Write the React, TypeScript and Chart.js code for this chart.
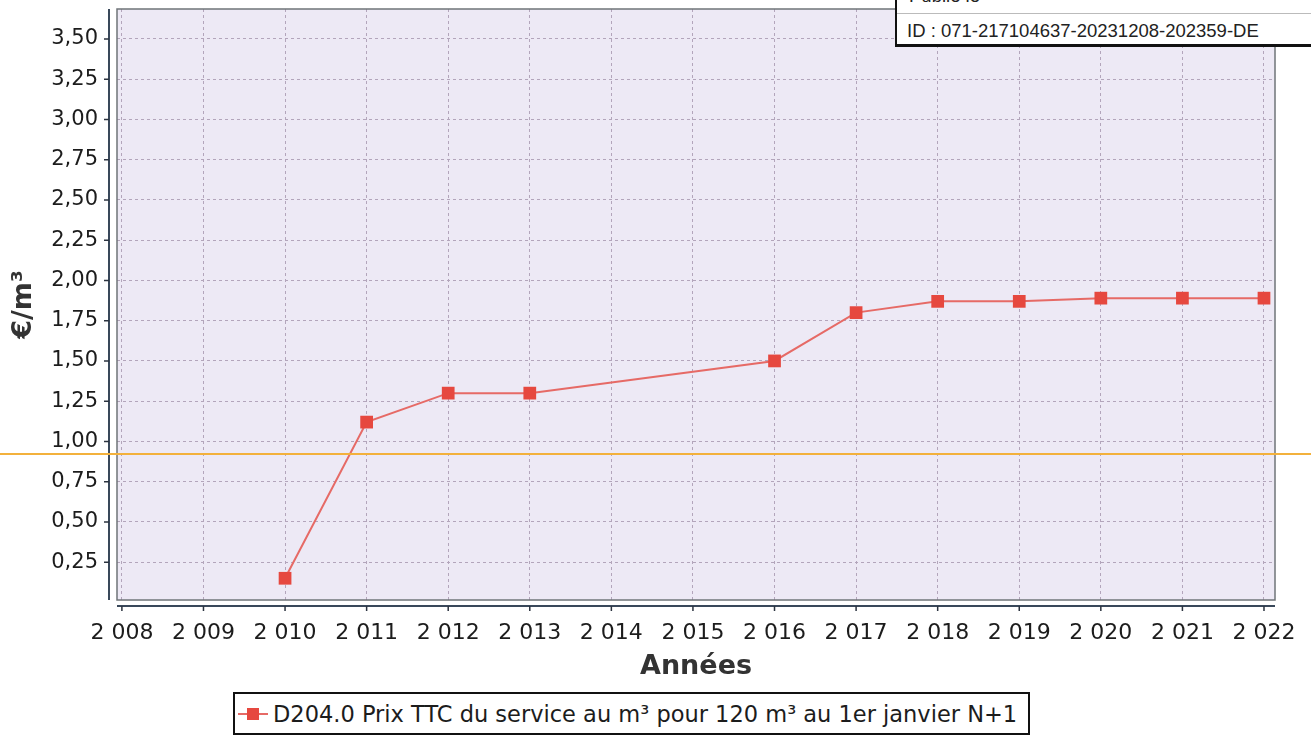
import React, { useEffect, useRef } from "react";
import { Chart, registerables } from "chart.js";

Chart.register(...registerables);

// ---- data ----
const years: number[] = [2010, 2011, 2012, 2013, 2016, 2017, 2018, 2019, 2020, 2021, 2022];
const prices: number[] = [0.15, 1.12, 1.30, 1.30, 1.50, 1.80, 1.87, 1.87, 1.89, 1.89, 1.89];
const xTickYears: number[] = [2008, 2009, 2010, 2011, 2012, 2013, 2014, 2015, 2016, 2017, 2018, 2019, 2020, 2021, 2022];
const yTickValues: number[] = [0.25, 0.5, 0.75, 1.0, 1.25, 1.5, 1.75, 2.0, 2.25, 2.5, 2.75, 3.0, 3.25, 3.5];
const seriesLabel = "D204.0 Prix TTC du service au m³ pour 120 m³ au 1er janvier N+1";
const xTitle = "Années";
const yTitle = "€/m³";
const stampTop = "Publié le";
const stampId = "ID : 071-217104637-20231208-202359-DE";
const scanArtifactValue = 0.93;

const FONT = "'DejaVu Sans', Verdana, sans-serif";
const PLOT_BG = "#ede9f5";
const GRID = "#b3a5bb";
const POINT_RED = "#e6483f";
const LINE_RED = "#e66a66";

const fmtFr = (v: number) => v.toFixed(2).replace(".", ",");
const fmtYear = (v: number) => {
  const s = String(Math.round(v));
  return s.slice(0, 1) + " " + s.slice(1);
};

const decorPlugin = {
  id: "decor",
  beforeDraw(chart: any) {
    const { ctx, chartArea: a } = chart;
    ctx.save();
    ctx.fillStyle = PLOT_BG;
    ctx.fillRect(a.left, a.top, a.right - a.left, a.bottom - a.top);
    ctx.restore();
  },
  afterDatasetsDraw(chart: any) {
    const { ctx, chartArea: a, scales } = chart;
    ctx.save();
    // plot border
    ctx.strokeStyle = "#6f7478";
    ctx.lineWidth = 1.5;
    ctx.strokeRect(a.left, a.top, a.right - a.left, a.bottom - a.top);
    // offset axis lines
    ctx.strokeStyle = "#39485a";
    ctx.lineWidth = 2;
    const axX = a.left - 8;
    const axY = a.bottom + 6;
    ctx.beginPath();
    ctx.moveTo(axX, a.top);
    ctx.lineTo(axX, a.bottom);
    ctx.moveTo(a.left, axY);
    ctx.lineTo(a.right, axY);
    ctx.stroke();
    // tick marks
    ctx.lineWidth = 1.5;
    ctx.strokeStyle = "#2c3440";
    ctx.beginPath();
    for (const v of yTickValues) {
      const py = scales.y.getPixelForValue(v);
      ctx.moveTo(axX - 5, py);
      ctx.lineTo(axX, py);
    }
    for (const v of xTickYears) {
      const px = scales.x.getPixelForValue(v);
      ctx.moveTo(px, axY);
      ctx.lineTo(px, axY + 5);
    }
    ctx.stroke();
    ctx.restore();
  },
  afterDraw(chart: any) {
    const { ctx, scales, width } = chart;
    const py = Math.round(scales.y.getPixelForValue(scanArtifactValue));
    ctx.save();
    ctx.setLineDash([]);
    ctx.fillStyle = "#f3b13c";
    ctx.fillRect(0, py, width, 2);
    ctx.restore();
  },
};

export default function App() {
  const ref = useRef<HTMLCanvasElement | null>(null);

  useEffect(() => {
    if (!ref.current) return;
    const chart = new Chart(ref.current, {
      type: "line",
      data: {
        datasets: [
          {
            label: seriesLabel,
            data: years.map((y, i) => ({ x: y, y: prices[i] })),
            borderColor: LINE_RED,
            borderWidth: 2,
            backgroundColor: POINT_RED,
            pointBackgroundColor: POINT_RED,
            pointBorderColor: POINT_RED,
            pointBorderWidth: 0,
            pointStyle: "rect",
            pointRadius: 9,
            tension: 0,
            fill: false,
          },
        ],
      },
      options: {
        animation: false,
        responsive: false,
        devicePixelRatio: 1,
        layout: { padding: { top: 7, right: 36, left: 0, bottom: 0 } },
        plugins: {
          legend: { display: false },
          tooltip: { enabled: false },
        },
        scales: {
          x: {
            type: "linear",
            min: 2007.94,
            max: 2022.135,
            afterBuildTicks: (s: any) => {
              s.ticks = xTickYears.map((v) => ({ value: v }));
            },
            afterFit: (s: any) => {
              s.height = 138;
              s.paddingLeft = 0;
              s.paddingRight = 0;
            },
            border: { display: false, dash: [3, 3] },
            grid: {
              drawTicks: false,
              color: GRID,
              lineWidth: 1,
            },
            ticks: {
              padding: 20,
              autoSkip: false,
              maxRotation: 0,
              color: "#1c1c1c",
              font: { family: FONT, size: 22 },
              callback: (v: any) => fmtYear(Number(v)),
            },
            title: {
              display: true,
              text: xTitle,
              color: "#333333",
              font: { family: FONT, size: 27, weight: "bold" },
              padding: { top: 0, bottom: 55 },
            },
          },
          y: {
            type: "linear",
            min: 0.015,
            max: 3.686,
            afterBuildTicks: (s: any) => {
              s.ticks = yTickValues.map((v) => ({ value: v }));
            },
            afterFit: (s: any) => {
              s.width = 117;
              s.paddingTop = 0;
              s.paddingBottom = 0;
            },
            border: { display: false, dash: [3, 3] },
            grid: {
              drawTicks: false,
              color: GRID,
              lineWidth: 1,
            },
            ticks: {
              padding: 19,
              autoSkip: false,
              color: "#1c1c1c",
              font: { family: FONT, size: 21 },
              callback: (v: any) => fmtFr(Number(v)),
            },
            title: {
              display: true,
              text: yTitle,
              color: "#333333",
              font: { family: FONT, size: 27, weight: "bold" },
              padding: { top: 8, bottom: 0 },
            },
          },
        },
      } as any,
      plugins: [decorPlugin],
    });
    return () => chart.destroy();
  }, []);

  return (
    <div
      style={{
        position: "absolute",
        left: 0,
        top: 0,
        width: 1311,
        height: 738,
        background: "#ffffff",
        overflow: "hidden",
      }}
    >
      <canvas ref={ref} width={1311} height={738} style={{ width: 1311, height: 738, display: "block" }} />
      {/* stamp box, top right */}
      <div
        style={{
          position: "absolute",
          left: 895,
          top: -20,
          width: 430,
          height: 64,
          background: "#ffffff",
          borderLeft: "2px solid #111",
          borderBottom: "3px solid #111",
          fontFamily: "'Liberation Sans', Arial, sans-serif",
          fontSize: 18.5,
          color: "#222",
        }}
      >
        <div style={{ position: "absolute", left: 12, top: 6, lineHeight: "20px" }}>{stampTop}</div>
        <div style={{ position: "absolute", left: 0, right: 0, top: 33, borderTop: "1px solid #bbb" }} />
        <div style={{ position: "absolute", left: 10, top: 40, lineHeight: "22px", whiteSpace: "nowrap" }}>{stampId}</div>
      </div>
      {/* legend */}
      <div
        style={{
          position: "absolute",
          left: 233,
          top: 692,
          width: 797,
          height: 43,
          border: "2px solid #111",
          boxSizing: "border-box",
          background: "#ffffff",
          display: "flex",
          alignItems: "center",
          fontFamily: FONT,
          fontSize: 22.5,
          color: "#1c1c1c",
          whiteSpace: "nowrap",
        }}
      >
        <div style={{ position: "relative", width: 30, height: 14, marginLeft: 3, marginRight: 5 }}>
          <div style={{ position: "absolute", left: 0, right: 0, top: 6, height: 2, background: LINE_RED }} />
          <div style={{ position: "absolute", left: 9, top: 1, width: 12, height: 12, background: POINT_RED }} />
        </div>
        <span>{seriesLabel}</span>
      </div>
    </div>
  );
}
